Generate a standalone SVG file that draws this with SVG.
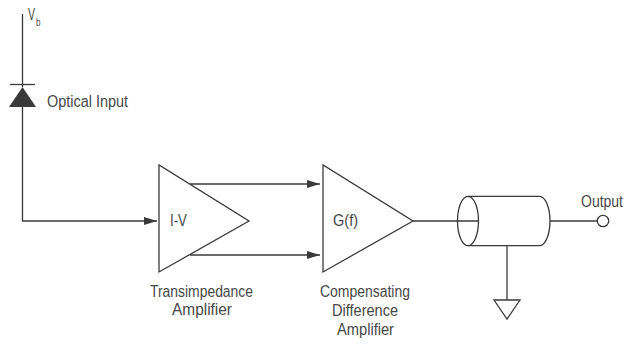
<svg xmlns="http://www.w3.org/2000/svg" width="629" height="344" viewBox="0 0 629 344">
<style>
.l{fill:none;stroke:#3a3a3a;stroke-width:1.3}
.f{fill:#3a3a3a;stroke:none}
text{font-family:"Liberation Sans",sans-serif;font-size:16px;fill:#484848;text-anchor:start}
</style>
<defs>
<marker id="a" markerUnits="userSpaceOnUse" markerWidth="14" markerHeight="10" refX="13" refY="4" orient="auto"><path d="M0 0L13 4L0 8Z" fill="#3a3a3a"/></marker>
</defs>
<rect width="629" height="344" fill="#fff"/>
<g id="connectors">
<path class="l" d="M22.5 14V87M22.5 107V221H157" marker-end="url(#a)"/>
<path class="l" d="M190 184H320" marker-end="url(#a)"/>
<path class="l" d="M190 255H320" marker-end="url(#a)"/>
<path class="l" d="M413 221H479"/>
<path class="l" d="M550 221H597"/>
<path class="l" d="M507 246V300"/>
</g>
<g id="vb"><text x="28" y="20" textLength="7" lengthAdjust="spacingAndGlyphs">V</text><text x="36" y="26" style="font-size:11px" textLength="4.5" lengthAdjust="spacingAndGlyphs">b</text></g>
<g id="photodiode">
<path class="l" d="M10 84.5H35"/>
<path class="f" d="M22.5 87L36 107H9Z"/>
<text x="47" y="107" textLength="81" lengthAdjust="spacingAndGlyphs">Optical Input</text>
</g>
<g id="transimpedance">
<path class="l" d="M159 165V272L249 221Z"/>
<text x="170" y="226" textLength="17" lengthAdjust="spacingAndGlyphs">I-V</text>
<text x="150" y="297" textLength="103" lengthAdjust="spacingAndGlyphs">Transimpedance</text>
<text x="172" y="315" textLength="60" lengthAdjust="spacingAndGlyphs">Amplifier</text>
</g>
<g id="difference">
<path class="l" d="M323 165V272L413 221Z"/>
<text x="333" y="226" textLength="25" lengthAdjust="spacingAndGlyphs">G(f)</text>
<text x="320" y="297" textLength="90" lengthAdjust="spacingAndGlyphs">Compensating</text>
<text x="332" y="316" textLength="66" lengthAdjust="spacingAndGlyphs">Difference</text>
<text x="337" y="335" textLength="57" lengthAdjust="spacingAndGlyphs">Amplifier</text>
</g>
<g id="cable">
<ellipse class="l" cx="468" cy="221" rx="10.5" ry="24.7"/>
<path class="l" d="M468 196.3H539.5A10.5 24.7 0 0 1 539.5 245.7H468"/>
</g>
<g id="output">
<circle class="l" cx="603" cy="221" r="5.7"/>
<text x="581" y="207" textLength="42" lengthAdjust="spacingAndGlyphs">Output</text>
</g>
<g id="ground"><path class="l" d="M494 300H520L507 319Z"/></g>
</svg>
